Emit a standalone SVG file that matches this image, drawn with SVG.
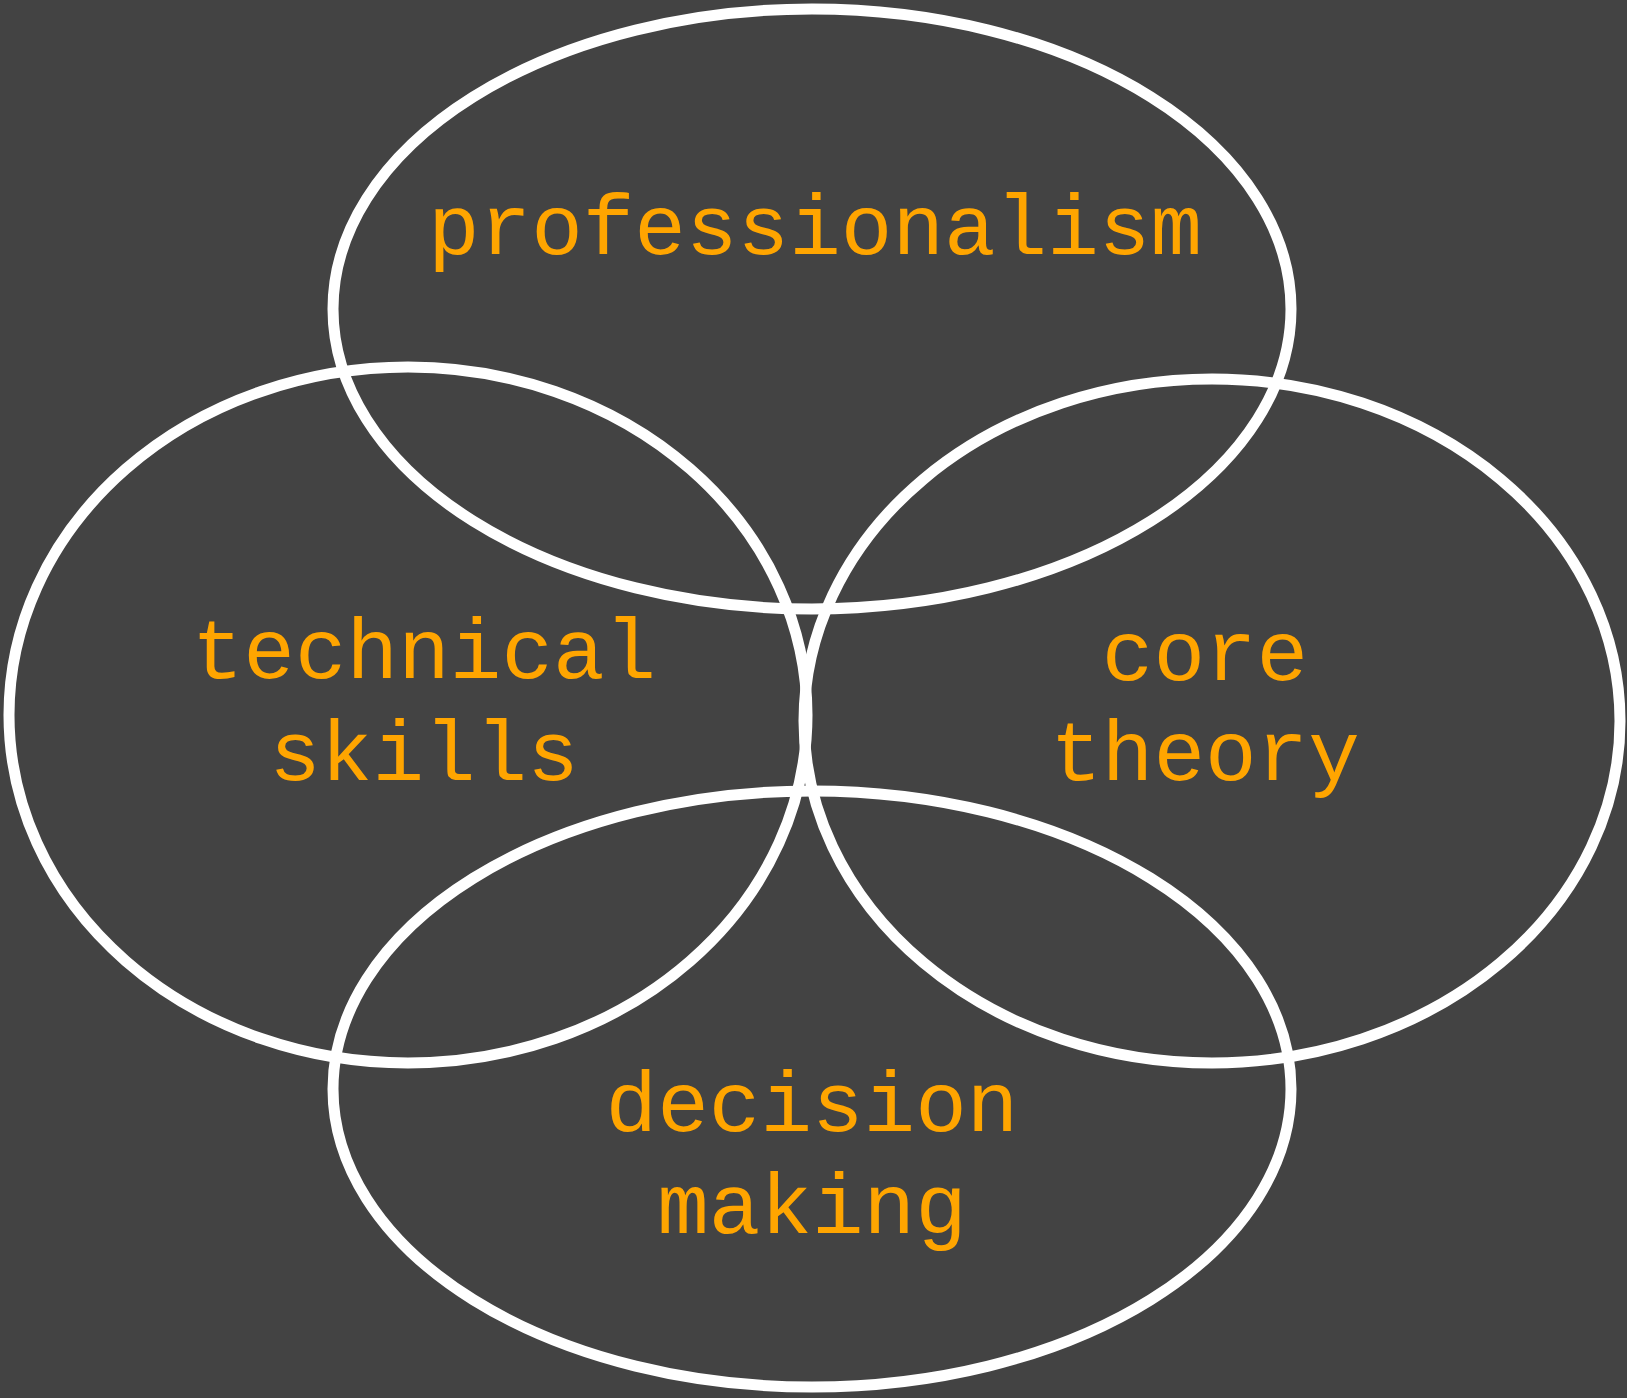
<svg xmlns="http://www.w3.org/2000/svg" width="1627" height="1398" viewBox="0 0 1627 1398">
<style>
.c{fill:none;stroke:#ffffff;stroke-width:11}
.t{fill:#ffa500;font-family:"Courier New",Courier,"Nimbus Mono PS","FreeMono","Liberation Mono",monospace;font-size:86px;text-anchor:middle}
</style>
<rect width="1627" height="1398" fill="#434343"/>
<g id="professionalism"><ellipse class="c" cx="812" cy="309" rx="479" ry="300"/><text class="t" x="815" y="254">professionalism</text></g>
<g id="technical-skills"><ellipse class="c" cx="408" cy="715" rx="399" ry="348"/><text class="t" x="424" y="678">technical</text><text class="t" x="424" y="780">skills</text></g>
<g id="core-theory"><ellipse class="c" cx="1212" cy="721" rx="408" ry="342"/><text class="t" x="1205" y="680">core</text><text class="t" x="1205" y="780">theory</text></g>
<g id="decision-making"><ellipse class="c" cx="812" cy="1089" rx="479" ry="298"/><text class="t" x="812" y="1131">decision</text><text class="t" x="812" y="1233">making</text></g>
<g id="connectors"/>
</svg>
